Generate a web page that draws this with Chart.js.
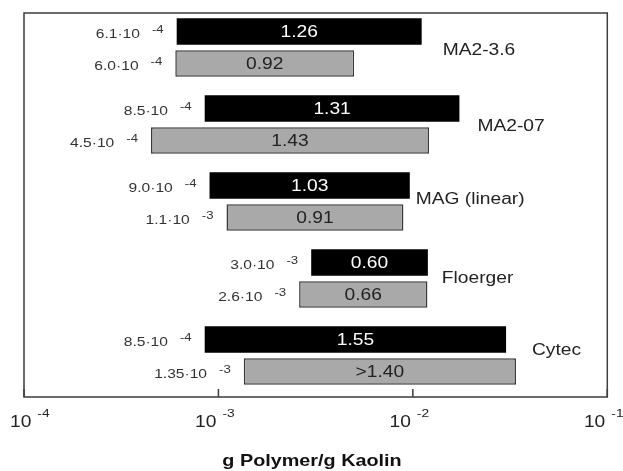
<!DOCTYPE html>
<html>
<head>
<meta charset="utf-8">
<script src="https://cdn.jsdelivr.net/npm/chart.js@4"></script>
<style>
  html, body { margin: 0; padding: 0; background: #fff; }
  canvas { display: block; }
</style>
</head>
<body>
<canvas id="chart" width="623" height="471"></canvas>
<script>
// Flocculant dosage windows: each bar spans from the onset dose to the end dose,
// its length (in decades) is printed inside the bar.
const groups = ['MA2-3.6', 'MA2-07', 'MAG (linear)', 'Floerger', 'Cytec'];

const blackStart = [6.1e-4, 8.5e-4, 9.0e-4, 3.0e-3, 8.5e-4];
const blackDecades = [1.26, 1.31, 1.03, 0.60, 1.55];
const grayStart = [6.0e-4, 4.5e-4, 1.1e-3, 2.6e-3, 1.35e-3];
const grayDecades = [0.92, 1.43, 0.91, 0.66, 1.40];

const blackInner = ['1.26', '1.31', '1.03', '0.60', '1.55'];
const grayInner = ['0.92', '1.43', '0.91', '0.66', '>1.40'];

const blackStartMantissa = ['6.1·10', '8.5·10', '9.0·10', '3.0·10', '8.5·10'];
const blackStartExp = ['-4', '-4', '-4', '-3', '-4'];
const grayStartMantissa = ['6.0·10', '4.5·10', '1.1·10', '2.6·10', '1.35·10'];
const grayStartExp = ['-4', '-4', '-3', '-3', '-3'];

const decadeExps = [-4, -3, -2, -1];
const axisTitle = 'g Polymer/g Kaolin';

// placement of the group names beside their bars (px)
const nameDx = [21, 18, 6, 14, 16];
const nameDy = [1.5, 0.5, -3.5, -1.5, -6.5];

const FONT = '"Liberation Sans", Arial, Helvetica, sans-serif';
const SX = 1.2; // horizontal stretch of lettering

function toRange(starts, decades) {
  return starts.map((s, i) => [s, s * Math.pow(10, decades[i])]);
}

function drawText(ctx, s, x, y, size, color, align, weight) {
  ctx.save();
  ctx.font = (weight || 'normal') + ' ' + size + 'px ' + FONT;
  ctx.fillStyle = color;
  ctx.textBaseline = 'alphabetic';
  ctx.textAlign = 'left';
  const w = ctx.measureText(s).width * SX;
  let x0 = x;
  if (align === 'right') x0 = x - w;
  else if (align === 'center') x0 = x - w / 2;
  ctx.translate(x0, y);
  ctx.scale(SX, 1);
  ctx.fillText(s, 0, 0);
  ctx.restore();
  return w;
}

function textWidth(ctx, s, size, weight) {
  ctx.save();
  ctx.font = (weight || 'normal') + ' ' + size + 'px ' + FONT;
  const w = ctx.measureText(s).width * SX;
  ctx.restore();
  return w;
}

const decorations = {
  id: 'decorations',
  afterDatasetsDraw(chart) {
    const ctx = chart.ctx;
    const area = chart.chartArea;
    const xs = chart.scales.x;
    const ys = chart.scales.y;
    const frameTop = area.top + 4;
    const frameBottom = area.bottom + 3;

    // plot frame
    ctx.save();
    ctx.strokeStyle = '#3d3d3d';
    ctx.lineWidth = 1.5;
    ctx.strokeRect(area.left, frameTop, area.right - area.left, frameBottom - frameTop);
    // inner tick marks on the bottom axis
    decadeExps.forEach(e => {
      const px = xs.getPixelForValue(Math.pow(10, e));
      ctx.beginPath();
      ctx.moveTo(px, frameBottom);
      ctx.lineTo(px, frameBottom - 8);
      ctx.stroke();
    });
    ctx.restore();

    // decade tick labels 10^e
    decadeExps.forEach(e => {
      const px = xs.getPixelForValue(Math.pow(10, e));
      const wBase = textWidth(ctx, '10', 16);
      let baseRight = px - 2;
      if (baseRight - wBase < 10) baseRight = 10 + wBase;
      drawText(ctx, '10', baseRight, frameBottom + 30, 16, '#222', 'right');
      drawText(ctx, String(e), baseRight + 6, frameBottom + 20, 11.5, '#222', 'left');
    });

    // axis title
    drawText(ctx, axisTitle, 312, 466, 16.5, '#111', 'center', 'bold');

    const sets = [
      { meta: chart.getDatasetMeta(0), inner: blackInner, innerColor: '#fff',
        mant: blackStartMantissa, exp: blackStartExp },
      { meta: chart.getDatasetMeta(1), inner: grayInner, innerColor: '#222',
        mant: grayStartMantissa, exp: grayStartExp }
    ];

    sets.forEach(set => {
      set.meta.data.forEach((bar, i) => {
        const p = bar.getProps(['x', 'y', 'base'], true);
        const left = Math.min(p.x, p.base);
        const right = Math.max(p.x, p.base);
        // value inside the bar
        drawText(ctx, set.inner[i], (left + right) / 2, p.y + 5.8, 16, set.innerColor, 'center');
        // onset dose to the left of the bar
        const wExp = textWidth(ctx, set.exp[i], 11);
        const expX = left - 13 - wExp;
        drawText(ctx, set.exp[i], expX, p.y + 1.5, 11, '#333', 'left');
        drawText(ctx, set.mant[i], expX - 12, p.y + 6.5, 13, '#333', 'right');
      });
    });

    // group names
    groups.forEach((g, i) => {
      const b0 = sets[0].meta.data[i].getProps(['x', 'base'], true);
      const b1 = sets[1].meta.data[i].getProps(['x', 'base'], true);
      const end = Math.max(b0.x, b0.base, b1.x, b1.base);
      const cy = ys.getPixelForValue(i);
      drawText(ctx, g, end + nameDx[i], cy + nameDy[i] + 5.8, 16, '#222', 'left');
    });
  }
};

new Chart(document.getElementById('chart'), {
  type: 'bar',
  data: {
    labels: groups,
    datasets: [
      {
        data: toRange(blackStart, blackDecades),
        backgroundColor: '#000000',
        borderWidth: 0
      },
      {
        data: toRange(grayStart, grayDecades),
        backgroundColor: '#a9a9a9',
        borderColor: '#3a3a3a',
        borderWidth: 1.5,
        borderSkipped: false
      }
    ]
  },
  options: {
    indexAxis: 'y',
    responsive: false,
    animation: false,
    events: [],
    layout: { padding: { left: 24, right: 15.7, top: 9, bottom: 77 } },
    datasets: { bar: { categoryPercentage: 0.831, barPercentage: 0.828 } },
    scales: {
      x: { type: 'logarithmic', min: 1e-4, max: 1e-1, display: false },
      y: { type: 'category', display: false, offset: true }
    },
    plugins: {
      legend: { display: false },
      tooltip: { enabled: false }
    }
  },
  plugins: [decorations]
});
</script>
</body>
</html>
